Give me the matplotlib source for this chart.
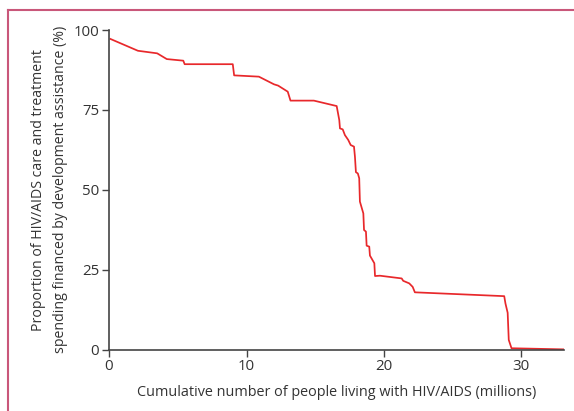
import matplotlib
matplotlib.use("Agg")
import matplotlib.pyplot as plt
from matplotlib.lines import Line2D

# Cumulative people living with HIV/AIDS (millions) vs share financed by DAH (%)
cum_people = [0.1, 2.1, 3.5, 4.2, 5.4, 5.5, 9.0, 9.1, 10.9, 12.0, 12.3, 13.0,
              13.2, 14.9, 16.56, 16.75, 16.8, 17.0, 17.16, 17.4, 17.58, 17.82,
              17.89, 17.96, 18.1, 18.2, 18.25, 18.5, 18.55, 18.69, 18.74,
              18.93, 18.98, 19.3, 19.35, 19.71, 21.29, 21.4, 21.84, 22.09,
              22.25, 28.75, 28.84, 29.0, 29.08, 29.28, 33.05]
share_dah = [97.2, 93.5, 92.7, 90.9, 90.4, 89.3, 89.3, 85.8, 85.4, 83.0, 82.6,
             80.7, 77.9, 77.9, 76.2, 71.8, 69.2, 68.9, 67.1, 65.6, 64.0, 63.5,
             60.3, 55.5, 55.1, 53.6, 46.3, 42.6, 37.4, 36.9, 32.5, 32.2, 29.4,
             27.0, 23.0, 23.1, 22.25, 21.5, 20.7, 19.6, 17.9, 16.7, 14.4,
             11.5, 3.0, 0.4, 0.05]

x_ticks = [0, 10, 20, 30]
y_ticks = [0, 25, 50, 75, 100]

plt.rcParams["font.family"] = ["Open Sans", "DejaVu Sans"]

fig = plt.figure(figsize=(5.74, 4.11), dpi=100)
ax = fig.add_axes([0.19, 0.1496, 0.7926, 0.7774])

ax.plot(cum_people, share_dah, color="#e8282b", linewidth=1.25)

ax.set_xlim(0, 33.1)
ax.set_ylim(0, 100)
ax.set_xticks(x_ticks)
ax.set_yticks(y_ticks)

for side in ("top", "right"):
    ax.spines[side].set_visible(False)
for side in ("left", "bottom"):
    ax.spines[side].set_color("#444444")
    ax.spines[side].set_linewidth(1.2)
ax.tick_params(direction="out", length=5, width=1, color="#444444",
               labelsize=10.8, labelcolor="#333333", pad=2)

ax.set_xlabel("Cumulative number of people living with HIV/AIDS (millions)",
              fontsize=10.4, color="#333333", labelpad=8)
ax.set_ylabel("Proportion of HIV/AIDS care and treatment\n"
              "spending financed by development assistance (%)",
              fontsize=10.2, color="#333333", labelpad=4, linespacing=1.6)

# pink frame lines (top and left)
frame_color = "#c9577a"
fig.add_artist(Line2D([8 / 574, 1.0], [1 - 10 / 411, 1 - 10 / 411],
                      transform=fig.transFigure, color=frame_color, lw=1.5))
fig.add_artist(Line2D([8 / 574, 8 / 574], [0.0, 1 - 10 / 411],
                      transform=fig.transFigure, color=frame_color, lw=1.5))

fig.savefig("out.png", dpi=100)
